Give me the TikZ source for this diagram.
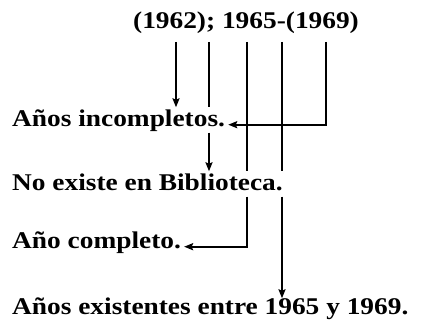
\documentclass[tikz,border=0pt]{standalone}
\usepackage{fontspec}
\setmainfont[FakeStretch=1.14]{Liberation Serif}
\usetikzlibrary{positioning,arrows.meta,calc}

\begin{document}
\begin{tikzpicture}[x=1pt,y=-1pt,
	txt/.style={anchor=base west,inner ysep=0pt,inner xsep=3pt,text height=19.5pt,text depth=5.5pt,font=\bfseries\fontsize{24}{28}\selectfont},
	lin/.style={line width=2pt},
	arr/.style={lin,-{Stealth[length=9pt,width=7pt,inset=1.5pt]}}]
	\useasboundingbox (0,0) rectangle (426,320);
	\node[txt,anchor=base] (top) at (246,29) {(1962); 1965-(1969)};
	\node[txt] (inc) at (9,127) {Años incompletos.};
	\node[txt] (nob) at (9,191) {No existe en Biblioteca.};
	\node[txt] (com) at (9,249) {Año completo.};
	\node[txt] (exi) at (9,315) {Años existentes entre 1965 y 1969.};
	\coordinate (s1) at (176,42);
	\coordinate (s2) at (209,42);
	\coordinate (s3) at (247,42);
	\coordinate (s4) at (282,42);
	\coordinate (s5) at (326,42);
	\draw[arr] (s1) -- (s1 |- inc.north);
	\draw[lin] (s2) -- (s2 |- inc.north);
	\draw[arr] (s2 |- inc.south) -- (s2 |- nob.north);
	\draw[arr] (s5) |- (inc.mid east);
	\draw[lin] (s3) -- (s3 |- nob.north);
	\draw[arr] (s3 |- nob.south) |- (com.mid east);
	\draw[lin] (s4) -- (s4 |- nob.north);
	\draw[arr] (s4 |- nob.south) -- ([yshift=-3pt]s4 |- exi.north);
\end{tikzpicture}
\end{document}
